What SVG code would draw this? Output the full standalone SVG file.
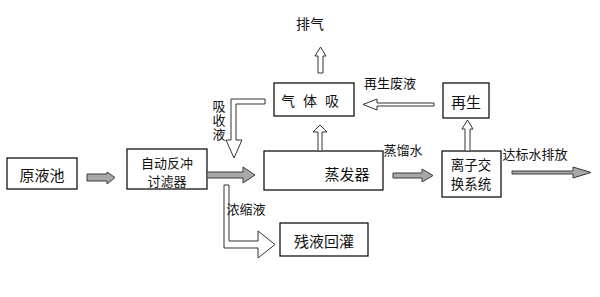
<svg xmlns="http://www.w3.org/2000/svg" width="600" height="297" viewBox="0 0 600 297">
<style>
.box{fill:#fff;stroke:#000;stroke-width:1.2}
.t{font-family:"Noto Sans CJK SC","Noto Sans",sans-serif;fill:#111;dominant-baseline:central;text-anchor:middle}
.g{fill:#a8a8a8;stroke:#3a3a3a;stroke-width:1}
.w{fill:#fff;stroke:#333;stroke-width:1}
</style>
<rect width="600" height="297" fill="#fff"/>
<g id="yuanyechi"><rect class="box" x="7" y="158" width="70" height="31"/><text class="t" x="42" y="174" font-size="15">原液池</text></g>
<g id="filter"><rect class="box" x="127" y="149" width="80" height="40"/><text class="t" font-size="13"><tspan x="167" y="162">自动反冲</tspan><tspan x="167" y="180">讨滤器</tspan></text></g>
<g id="evap"><rect class="box" x="264" y="151" width="119" height="39"/><text class="t" x="347" y="173" font-size="15">蒸发器</text></g>
<g id="ion"><rect class="box" x="442" y="151" width="59" height="46"/><text class="t" font-size="13.5"><tspan x="471" y="163.5">离子交</tspan><tspan x="471" y="182.5">换系统</tspan></text></g>
<g id="absorb"><rect class="box" x="274" y="83" width="80" height="33"/><text class="t" x="314" y="100" font-size="14" letter-spacing="8">气体吸</text></g>
<g id="regen"><rect class="box" x="443" y="83" width="46" height="35"/><text class="t" x="466" y="101" font-size="15">再生</text></g>
<g id="residue"><rect class="box" x="280" y="223" width="88" height="33"/><text class="t" x="324" y="240" font-size="15">残液回灌</text></g>
<g id="connectors">
<polygon class="g" points="87,174 107,174 107,172 115,177.5 107,184 107,181 87,181"/>
<polygon class="g" points="207,172 243,172 243,167 255,175 243,183 243,178 207,178"/>
<polygon class="g" points="393,173 422,173 422,169 433,175.5 422,182 422,178 393,178"/>
<polygon class="g" points="512,171 573,171 573,167 591,172.5 573,178 573,174 512,174"/>
<polygon class="w" points="318,151 318,132 313,132 320,125 327,132 322,132 322,151"/>
<polygon class="w" points="318,73 318,56 315,56 320.5,47 326,56 323,56 323,73"/>
<polygon class="w" points="434,103 377,103 377,99 363,104.5 377,110 377,106 434,106"/>
<polygon class="w" points="465,151 465,129 462,129 467.5,120 473,129 470,129 470,151"/>
<polygon class="w" points="265,99 231,99 231,140 226,140 234,158 242,140 236,140 236,104 265,104"/>
<polygon class="w" points="224,185 224,248 258,248 258,258 275,244.5 258,231 258,241 229,241 229,185"/>
<text class="t" x="310" y="23" font-size="14">排气</text>
<text class="t" x="390" y="82" font-size="13">再生废液</text>
<text class="t" x="403" y="149" font-size="13">蒸馏水</text>
<text class="t" x="535" y="153" font-size="13">达标水排放</text>
<text class="t" x="246" y="208" font-size="13">浓缩液</text>
<text class="t" x="219" y="100" font-size="13" writing-mode="vertical-rl" letter-spacing="1" style="text-anchor:start">吸收液</text>
</g>
</svg>
